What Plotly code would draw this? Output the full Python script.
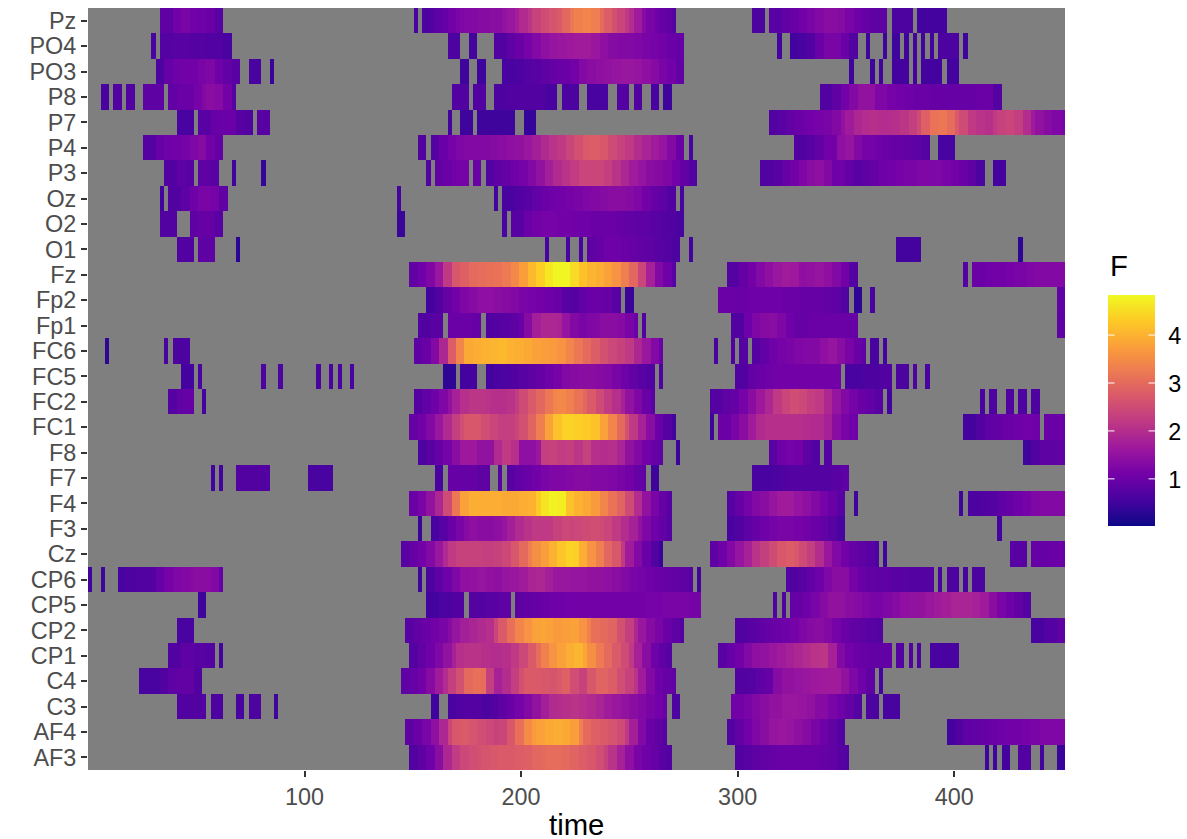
import plotly.graph_objects as go

# samples are 1/512 s apart, time axis in ms
DT = 1.953125
N_SAMPLES = 231

# each channel: (first sample, last sample + 1, F values read along the block)
AF3 = [(76, 138, [.7, .85, 1.05, 1.4, 1.9, 2.25, 2.45, 2.55, 2.6, 2.65, 2.7, 2.75, 2.75, 2.8, 2.85, 2.95, 3.0, 3.05, 3.05, 3.0, 2.9, 2.8, 2.7, 2.55, 2.35, 2.1, 1.8, 1.45, 1.2, 1.05, .95, .8, .7]),
       (153, 180, [.7, .8, .85, .9, .95, 1.0, 1.0, 1.0, 1.0, 1.0, .95, .9, .8, .7]),
       (212, 213, [.5]), (214, 215, [.5]), (216, 218, [.55]), (220, 223, [.7]), (225, 226, [.55]), (229, 231, [.45])]
AF4 = [(75, 137, [.85, 1.0, 1.2, 1.45, 1.9, 2.4, 2.7, 2.75, 2.65, 2.55, 2.45, 2.35, 2.4, 2.7, 3.1, 3.5, 3.7, 3.8, 3.9, 3.95, 3.9, 3.75, 3.35, 3.0, 2.85, 2.75, 2.65, 2.5, 2.2, 1.75, 1.3, 1.0, .85, .75]),
       (151, 179, [.7, .9, 1.1, 1.25, 1.4, 1.55, 1.6, 1.55, 1.45, 1.35, 1.2, 1.05, .9, .75]),
       (203, 231, [.55, .7, .85, .9, .95, 1.0, 1.05, 1.1, 1.1, 1.15, 1.2, 1.25, 1.25, 1.25])]
C3 = [(21, 28, [.7]), (29, 32, [.65]), (35, 37, [.6]), (38, 41, [.65]), (44, 45, [.5]), (81, 83, [.5]),
      (85, 137, [.6, .7, .75, .75, .65, .7, .85, 1.0, 1.15, 1.3, 1.5, 1.75, 1.95, 2.0, 2.05, 2.1, 2.05, 1.95, 1.85, 1.7, 1.6, 1.5, 1.4, 1.3, 1.2, 1.1, 1.0]),
      (138, 140, [.65]), (152, 183, [1.1, 1.2, 1.3, 1.4, 1.5, 1.6, 1.6, 1.55, 1.5, 1.35, 1.2, 1.05, .9, .75]),
      (184, 187, [.65]), (188, 192, [.6])]
C4 = [(12, 27, [.6, .6, .7, .85, .9, .9, .7]),
      (74, 139, [.85, .95, 1.1, 1.35, 1.7, 2.0, 2.3, 2.6, 3.0, 3.1, 3.05, 2.3, 1.8, 2.0, 2.3, 2.6, 2.75, 2.75, 2.7, 2.65, 2.75, 2.85, 2.55, 2.35, 2.7, 2.9, 2.9, 2.8, 2.55, 2.35, 2.1, 1.7, 1.3, 1.05, .95, .85]),
      (153, 186, [.7, .75, .85, .95, 1.35, 1.5, 1.55, 1.6, 1.65, 1.7, 1.7, 1.5, 1.25, 1.05, .85]), (187, 188, [.55])]
CP1 = [(19, 30, [.7, .85, .8, .75]), (31, 32, [.55]),
       (76, 138, [.75, .9, 1.05, 1.25, 1.5, 1.8, 2.05, 2.1, 2.1, 2.05, 2.0, 2.0, 2.05, 2.2, 2.45, 2.75, 3.05, 3.35, 3.6, 3.8, 3.95, 4.05, 3.85, 3.55, 3.25, 3.0, 2.75, 2.5, 2.2, 1.8, 1.4, 1.05, .85, .75]),
       (149, 190, [.8, .95, 1.1, 1.3, 1.45, 1.5, 1.6, 1.7, 1.8, 1.9, 2.0, 2.1, 2.15, 1.8, 1.3, 1.1, 1.0, .95, .9, .9, .9]),
       (191, 193, [.75]), (194, 195, [.7]), (196, 197, [.65]), (199, 206, [.6])]
CP2 = [(21, 25, [.6]),
       (75, 141, [.8, .9, 1.0, 1.1, 1.2, 1.35, 1.55, 1.75, 1.85, 1.95, 2.05, 2.4, 2.75, 3.1, 3.4, 3.6, 3.8, 3.85, 3.8, 3.7, 3.75, 3.8, 3.6, 3.35, 3.1, 3.0, 2.9, 2.6, 2.3, 1.9, 1.6, 1.35, 1.2, 1.0, .85, .7]),
       (153, 188, [.7, .8, .85, .95, 1.0, 1.05, 1.15, 1.25, 1.35, 1.4, 1.3, 1.15, 1.0, .9, .85, .8, .75]), (223, 231, [.6, .75, .85])]
CP5 = [(26, 28, [.5]), (80, 89, [.55, .65, .7]), (90, 100, [.75, .8, .85]),
       (101, 145, [.85, .9, .95, 1.0, 1.05, 1.05, 1.1, 1.1, 1.1, 1.1, 1.1, 1.1, 1.1, 1.1, 1.1, 1.1, 1.15, 1.15, 1.2, 1.2, 1.2, 1.15, 1.15]),
       (162, 163, [.7]), (164, 165, [.7]),
       (166, 223, [.95, 1.05, 1.2, 1.35, 1.5, 1.5, 1.4, 1.35, 1.25, 1.2, 1.25, 1.35, 1.45, 1.5, 1.5, 1.6, 1.7, 1.75, 1.85, 1.85, 1.8, 1.7, 1.4, 1.2, 1.05, .9, .75])]
CP6 = [(0, 1, [.5]), (3, 4, [.5]), (7, 32, [.6, .65, .7, .7, .75, .95, 1.15, 1.25, 1.3, 1.35, 1.4, 1.4, 1.3, .95]), (78, 79, [.5]),
       (80, 143, [.65, .85, 1.05, 1.25, 1.45, 1.5, 1.55, 1.5, 1.45, 1.55, 1.6, 1.7, 1.85, 1.9, 1.75, 1.6, 1.6, 1.55, 1.55, 1.5, 1.5, 1.45, 1.4, 1.3, 1.2, 1.15, 1.05, 1.0, .95, .9, .85, .75]),
       (144, 145, [.55]), (165, 200, [.7, .8, .9, 1.05, 1.25, 1.4, 1.4, 1.15, 1.0, .9, .85, .85, .8, .8, .75, .75, .75]),
       (201, 202, [.6]), (203, 206, [.65]), (207, 208, [.6]), (209, 212, [.65])]
Cz = [(74, 136, [.8, .95, 1.1, 1.3, 1.6, 1.95, 2.2, 2.35, 2.35, 2.35, 2.3, 2.3, 2.35, 2.45, 2.7, 3.0, 3.3, 3.55, 3.75, 4.0, 4.25, 4.4, 4.35, 3.95, 3.6, 3.3, 2.95, 2.7, 2.2, 1.7, 1.3, 1.0, .7, .45]),
      (147, 187, [.85, 1.05, 1.3, 1.55, 1.8, 2.1, 2.3, 2.5, 2.7, 2.8, 2.7, 2.5, 2.3, 2.0, 1.6, 1.3, 1.1, .95, .85, .8, .65]),
      (188, 189, [.5]), (218, 222, [.8]), (223, 231, [.95, 1.0])]
F3 = [(78, 79, [.45]),
      (81, 138, [.6, .8, 1.0, 1.2, 1.35, 1.45, 1.4, 1.4, 1.45, 1.55, 1.75, 1.95, 2.1, 2.2, 2.2, 2.2, 2.35, 2.45, 2.4, 2.45, 2.5, 2.55, 2.5, 2.4, 2.2, 2.0, 1.8, 1.5, 1.25, 1.05, .9, .75]),
      (151, 179, [.6, .7, .85, .95, 1.05, 1.15, 1.2, 1.2, 1.15, 1.1, 1.0, .9, .8, .6]), (215, 216, [.55])]
F4 = [(76, 138, [1.0, 1.2, 1.5, 1.9, 2.5, 3.2, 3.8, 3.95, 3.95, 3.95, 3.95, 3.9, 3.9, 3.95, 4.0, 4.3, 4.6, 4.75, 4.7, 4.2, 4.0, 3.9, 3.7, 3.4, 3.15, 2.9, 2.5, 2.0, 1.5, 1.2, .95, .75]),
      (151, 179, [.75, .95, 1.15, 1.3, 1.4, 1.55, 1.7, 1.7, 1.55, 1.45, 1.3, 1.15, 1.0, .8]), (181, 182, [.5]), (206, 207, [.5]),
      (208, 231, [.65, .7, .75, .85, .95, 1.05, 1.15, 1.25, 1.3, 1.3, 1.3])]
F7 = [(29, 30, [.55]), (31, 32, [.55]), (35, 43, [.7]), (52, 58, [.6]), (82, 84, [.6]), (85, 95, [.95, .95, .85]),
      (97, 98, [.8]), (99, 132, [.8, .9, 1.0, 1.1, 1.2, 1.25, 1.25, 1.3, 1.35, 1.35, 1.3, 1.3, 1.25, 1.2, 1.1, .95, .85]),
      (133, 135, [.5]), (157, 180, [.6, .6, .65, .7, .75, .75, .75, .75, .75, .8, .85])]
F8 = [(78, 136, [.65, .8, .95, 1.15, 1.4, 1.65, 1.65, 1.5, 1.5, 1.95, 2.2, 2.05, 1.45, 1.45, 1.6, 2.3, 2.35, 2.25, 2.3, 2.15, 2.35, 2.05, 2.0, 2.05, 1.85, 1.5, 1.3, 1.1, .95, .85]),
      (139, 140, [.45]), (161, 173, [.8, 1.05, 1.15, 1.1, .85, .7]), (174, 176, [.75]), (221, 231, [.5, .7, .85, .85, .9])]
FC1 = [(76, 139, [.95, 1.1, 1.3, 1.6, 1.95, 2.3, 2.55, 2.7, 2.7, 2.55, 2.4, 2.3, 2.3, 2.4, 2.6, 2.9, 3.3, 3.8, 4.2, 4.4, 4.4, 4.35, 4.3, 4.2, 3.8, 3.4, 3.0, 2.6, 2.2, 1.8, 1.4, 1.0, .75, .55]),
       (147, 148, [.5]), (149, 182, [1.0, 1.2, 1.4, 1.7, 1.95, 2.05, 2.05, 2.05, 2.05, 2.0, 1.95, 1.8, 1.4, 1.2, 1.05]),
       (207, 225, [.55, .7, .85, .9, 1.0, 1.05, 1.1, 1.05]), (226, 231, [1.0])]
FC2 = [(19, 25, [.75, .9, .95]), (27, 28, [.55]),
       (77, 134, [.75, .9, 1.05, 1.25, 1.5, 1.8, 2.05, 2.15, 2.15, 2.1, 2.05, 2.05, 2.1, 2.25, 2.5, 2.75, 2.95, 3.2, 3.4, 3.45, 3.35, 3.15, 2.95, 2.75, 2.5, 2.25, 2.05, 1.8, 1.5, 1.25, 1.0, .8]),
       (147, 188, [.75, .85, .95, 1.15, 1.4, 1.65, 1.9, 2.2, 2.4, 2.55, 2.45, 2.3, 2.2, 1.9, 1.55, 1.3, 1.15, 1.0, .9, .8]), (189, 190, [.55]),
       (211, 212, [.6]), (213, 215, [.65]), (217, 219, [.7]), (220, 222, [.65]), (223, 225, [.65])]
FC5 = [(22, 25, [.55]), (26, 27, [.6]), (41, 42, [.65]), (45, 46, [.65]), (54, 55, [.6]), (57, 58, [.6]),
       (59, 60, [.6]), (62, 63, [.6]), (84, 87, [.35]), (88, 92, [.55]),
       (94, 134, [.55, .6, .65, .7, .8, .85, .95, 1.05, 1.15, 1.3, 1.35, 1.4, 1.4, 1.35, 1.3, 1.2, 1.05, .9, .8, .7]),
       (135, 136, [.65]), (153, 178, [.7, .9, 1.0, 1.05, 1.1, 1.1, 1.1, 1.1, 1.1, 1.1, 1.1, 1.1]),
       (179, 190, [.6, .65, .7]), (191, 194, [.65]), (195, 196, [.65]), (198, 199, [.6])]
FC6 = [(4, 5, [.35]), (18, 19, [.6]), (20, 24, [.65]),
       (77, 136, [.85, 1.0, 1.3, 1.9, 2.8, 3.4, 3.9, 3.95, 4.0, 4.05, 4.1, 4.0, 3.95, 3.9, 3.8, 3.75, 3.7, 3.6, 3.4, 3.2, 3.0, 2.8, 2.6, 2.45, 2.35, 2.2, 1.9, 1.6, 1.3, 1.0]),
       (148, 149, [.6]), (152, 153, [.7]), (154, 156, [.75]),
       (157, 184, [.75, .9, 1.05, 1.15, 1.2, 1.25, 1.3, 1.3, 1.45, 1.55, 1.4, 1.2, 1.0, .85]), (185, 187, [.6]), (188, 189, [.55])]
Fp1 = [(78, 84, [.7, .8]), (85, 93, [1.0, 1.0, .95]),
       (94, 130, [.7, .75, .8, .85, 1.0, 1.35, 1.75, 1.9, 1.9, 1.85, 1.55, 1.3, 1.2, 1.25, 1.3, 1.4, 1.4, 1.35, 1.2, 1.0]), (131, 132, [.7]),
       (152, 182, [.7, 1.05, 1.25, 1.35, 1.4, 1.25, 1.05, .95, 1.0, 1.0, 1.0, 1.0, 1.0, .95]), (229, 231, [.85])]
Fp2 = [(80, 126, [.55, .7, .95, 1.1, 1.25, 1.35, 1.45, 1.45, 1.4, 1.35, 1.3, 1.2, 1.15, 1.1, 1.05, 1.0, .8, .75, .9, 1.0, 1.0, .95, .8]), (127, 129, [.45]),
       (149, 180, [1.0, 1.0, 1.0, 1.05, 1.05, 1.05, 1.05, 1.0, 1.0, .95, .95, .95, .9, .85, .7]), (181, 183, [.35]), (185, 186, [.6]),
       (229, 231, [.9])]
Fz = [(76, 139, [.9, 1.05, 1.25, 1.6, 2.2, 2.7, 2.85, 3.0, 3.05, 3.1, 3.15, 3.25, 3.45, 3.75, 4.1, 4.35, 4.65, 4.8, 4.8, 4.5, 4.2, 4.05, 3.95, 3.8, 3.6, 3.3, 2.95, 2.4, 1.8, 1.3, 1.05, .8]),
      (151, 182, [.75, .95, 1.1, 1.3, 1.45, 1.6, 1.7, 1.65, 1.45, 1.5, 1.55, 1.45, 1.3, 1.1, .75]), (207, 208, [.75]),
      (209, 231, [1.0, 1.05, 1.1, 1.15, 1.2, 1.25, 1.3, 1.3, 1.3])]
O1 = [(21, 25, [.7]), (26, 30, [.85]), (35, 36, [.3]), (108, 109, [.6]), (113, 114, [.6]), (116, 117, [.6]),
      (118, 140, [.85, .95, 1.05, 1.05, 1.0, .95, .9, .85, .8, .75, .65]), (142, 143, [.55]), (191, 197, [.55]), (220, 221, [.35])]
O2 = [(17, 21, [.7]), (24, 32, [.85, .95, .95, .8]), (73, 75, [.45]), (98, 99, [.6]),
      (100, 141, [.8, 1.0, 1.1, 1.15, 1.15, 1.1, 1.1, 1.05, 1.05, 1.0, 1.0, 1.0, .95, .9, .85, .85, .8, .75, .7, .6])]
Oz = [(17, 18, [.55]), (19, 33, [.7, .85, 1.05, 1.2, 1.15, .85]), (73, 74, [.55]), (96, 97, [.55]),
      (98, 139, [.6, .7, .8, .9, 1.0, 1.05, 1.1, 1.15, 1.2, 1.25, 1.3, 1.35, 1.4, 1.4, 1.35, 1.25, 1.1, .95, .85, .7]), (140, 141, [.6])]
P3 = [(18, 25, [.7, .85, .8]), (26, 31, [.85, .8]), (34, 35, [.5]), (41, 42, [.4]), (80, 81, [.7]),
      (82, 90, [.9, 1.0, 1.1, 1.15]), (91, 93, [1.0]),
      (94, 144, [.75, .85, .95, 1.05, 1.15, 1.3, 1.5, 1.75, 1.95, 2.1, 2.25, 2.4, 2.4, 2.4, 2.3, 2.1, 1.9, 1.7, 1.55, 1.4, 1.35, 1.25, 1.1, .9, .7]),
      (159, 212, [.7, .8, .95, 1.1, 1.25, 1.4, 1.45, 1.3, 1.05, .9, .8, .85, .95, 1.05, 1.1, 1.15, 1.2, 1.25, 1.25, 1.25, 1.2, 1.1, 1.0, .85, .65]),
      (214, 217, [.55])]
P4 = [(13, 32, [.75, .95, 1.05, 1.1, 1.15, 1.25, 1.35, 1.1, .9]), (78, 80, [.7]),
      (81, 141, [.75, 1.0, 1.15, 1.25, 1.3, 1.3, 1.3, 1.35, 1.4, 1.45, 1.5, 1.6, 1.75, 1.95, 2.1, 2.2, 2.4, 2.6, 2.75, 2.8, 2.7, 2.5, 2.35, 2.2, 2.0, 1.85, 1.7, 1.55, 1.3, 1.0]),
      (142, 143, [.6]), (167, 199, [.7, .8, .9, 1.1, 1.45, 1.55, 1.3, 1.15, 1.05, 1.0, .95, .9, .85, .75]), (201, 205, [.6])]
P7 = [(21, 25, [.6]), (26, 39, [.8, .95, 1.0, 1.0, .8, .7]), (40, 43, [.8]), (85, 86, [.55]), (88, 91, [.5]),
      (92, 101, [.5]), (103, 106, [.4]),
      (161, 231, [.7, .8, .9, 1.0, 1.05, 1.1, 1.15, 1.2, 1.3, 1.5, 1.7, 1.9, 2.0, 2.05, 2.0, 2.0, 2.05, 2.15, 2.3, 2.5, 2.85, 3.15, 3.2, 3.05, 2.75, 2.5, 2.2, 2.1, 2.05, 2.2, 2.35, 2.4, 2.3, 2.0, 1.7, 1.5, 1.35, 1.25, 1.2])]
P8 = [(3, 5, [.6]), (6, 8, [.7]), (9, 11, [.7]), (13, 18, [.85]), (19, 35, [.9, 1.0, 1.0, 1.15, 1.3, 1.4, 1.35, 1.1, .75]),
      (86, 90, [.7]), (91, 94, [.7]), (96, 111, [.65, .7, .7, .7, .6]), (112, 116, [.65]), (118, 123, [.6]),
      (125, 128, [.75]), (129, 131, [.7]), (133, 135, [.6]), (136, 138, [.5]),
      (173, 216, [.7, .85, 1.1, 1.3, 1.5, 1.5, 1.25, 1.15, 1.1, 1.05, 1.0, 1.0, .95, .95, .95, .95, .95, 1.0, 1.0, .75])]
PO3 = [(16, 36, [.65, .95, 1.05, 1.1, 1.1, 1.2, 1.25, 1.05, .9, .8]), (38, 41, [.6]), (43, 44, [.45]), (88, 90, [.5]),
       (92, 94, [.5]), (98, 141, [.6, .65, .75, .8, .85, .95, 1.0, 1.1, 1.3, 1.4, 1.45, 1.5, 1.55, 1.6, 1.55, 1.45, 1.35, 1.2, 1.1, .9]),
       (180, 181, [.5]), (185, 186, [.5]), (187, 188, [.5]), (190, 194, [.55]), (195, 196, [.55]), (197, 202, [.55]),
       (203, 206, [.55])]
PO4 = [(15, 16, [.6]), (17, 34, [.75, .8, .8, .75, .75, .7, .7, .6]), (85, 88, [.65]), (90, 92, [.55]),
       (96, 141, [.7, .85, 1.0, 1.15, 1.3, 1.45, 1.55, 1.6, 1.65, 1.7, 1.7, 1.6, 1.45, 1.35, 1.3, 1.3, 1.25, 1.2, 1.15, 1.1, 1.0, .95]),
       (163, 164, [.55]), (166, 182, [.55, .6, .7, 1.0, 1.2, 1.2, 1.0, .7]), (184, 185, [.5]), (188, 189, [.5]), (190, 192, [.5]),
       (193, 194, [.5]), (195, 196, [.55]), (197, 198, [.55]), (199, 200, [.55]), (201, 206, [.65]), (207, 208, [.5])]
Pz = [(17, 32, [.85, 1.1, 1.2, 1.1, 1.05, 1.0, .8]), (77, 78, [.6]),
      (79, 139, [.65, .75, .85, .95, 1.1, 1.2, 1.25, 1.3, 1.3, 1.35, 1.35, 1.4, 1.4, 1.5, 1.6, 1.75, 1.95, 2.15, 2.35, 2.5, 2.55, 2.65, 2.75, 2.95, 3.2, 3.35, 3.4, 3.4, 3.3, 3.0, 2.8, 2.6, 2.4, 2.2, 2.0, 1.7, 1.35, 1.2, 1.05, .95, .85, .7]),
      (157, 160, [.65]), (161, 189, [.8, .9, 1.0, 1.1, 1.2, 1.3, 1.4, 1.35, 1.2, 1.05, .95, .85, .85]), (190, 195, [.65]), (196, 203, [.55])]

channels = ["AF3", "AF4", "C3", "C4", "CP1", "CP2", "CP5", "CP6", "Cz", "F3", "F4", "F7", "F8", "FC1", "FC2",
            "FC5", "FC6", "Fp1", "Fp2", "Fz", "O1", "O2", "Oz", "P3", "P4", "P7", "P8", "PO3", "PO4", "Pz"]
blocks = [AF3, AF4, C3, C4, CP1, CP2, CP5, CP6, Cz, F3, F4, F7, F8, FC1, FC2,
          FC5, FC6, Fp1, Fp2, Fz, O1, O2, Oz, P3, P4, P7, P8, PO3, PO4, Pz]
bar_ticks = [1, 2, 3, 4]
F_MIN, F_MAX = 0.03, 4.84


def fill_row(row_blocks):
    row = [None] * N_SAMPLES
    for start, stop, vals in row_blocks:
        for i in range(start, stop):
            row[i] = vals[(i - start) * len(vals) // (stop - start)]
    return row


z = [fill_row(b) for b in blocks]

# plot area in pixels of the 1187x839 page
W, H = 1187, 839
LEFT, RIGHT, TOP, BOTTOM = 88, 1065, 8, 770.5
BAR_X, BAR_W, BAR_TOP, BAR_BOTTOM = 1108, 47, 295, 525.7
PW = RIGHT - LEFT
PH = BOTTOM - TOP
TICK_SIZE, TITLE_SIZE = 23.4, 29.3

fig = go.Figure(go.Heatmap(
    z=z, y=channels, x0=DT / 2, dx=DT,
    colorscale="Plasma", zmin=F_MIN, zmax=F_MAX, hoverongaps=False,
    colorbar=dict(
        # container coordinates, so the colourbar does not push the plot margins
        # (plotly places it too high here, the offset is taken off y)
        xref="container", yref="container",
        x=BAR_X / W, xanchor="left", xpad=0, ypad=0,
        y=(H - BAR_BOTTOM - 53.5) / H, yanchor="bottom",
        thickness=BAR_W, thicknessmode="pixels", len=BAR_BOTTOM - BAR_TOP, lenmode="pixels",
        # white outside ticks only make the gap before the labels, the real ones are annotations below
        outlinewidth=0, tickvals=bar_ticks, ticks="outside", ticklen=9, tickwidth=1, tickcolor="white",
        tickfont=dict(size=TICK_SIZE, color="black"),
    ),
))

fig.update_xaxes(range=[0, N_SAMPLES * DT], tickvals=[100, 200, 300, 400], ticks="outside", ticklen=6, tickwidth=1.5,
                 tickcolor="#333333", tickfont=dict(size=TICK_SIZE, color="#4D4D4D"), showgrid=False, zeroline=False)
fig.update_yaxes(type="category", range=[-0.5, 29.5], dtick=1, ticks="outside", ticklen=6, tickwidth=1.5, tickcolor="#333333",
                 tickfont=dict(size=TICK_SIZE, color="#4D4D4D"), showgrid=False, zeroline=False)

annotations = [
    dict(text="time", font=dict(size=TITLE_SIZE, color="black"), showarrow=False, xref="paper", yref="paper",
         x=0.5, xanchor="center", y=(BOTTOM - 825) / PH, yanchor="middle"),
    dict(text="F", font=dict(size=TITLE_SIZE, color="black"), showarrow=False, xref="paper", yref="paper",
         x=(BAR_X - LEFT) / PW, xanchor="left", y=(BOTTOM - 266) / PH, yanchor="middle"),
    # y title runs off the page edge in the original, only the letter bottoms show
    dict(text="variable", textangle=-90, font=dict(size=TITLE_SIZE, color="black"), showarrow=False, xref="paper", yref="paper",
         x=(13 - LEFT) / PW, xanchor="right", y=(BOTTOM - 390) / PH, yanchor="middle", xshift=7),
    dict(text=" ", width=12, height=160, bgcolor="white", showarrow=False, xref="paper", yref="paper",
         x=(6 - LEFT) / PW, xanchor="center", y=(BOTTOM - 390) / PH, yanchor="middle"),
]
# ggplot colourbars have their ticks inside on both sides
for v in bar_ticks:
    y_px = BAR_BOTTOM - (v - F_MIN) / (F_MAX - F_MIN) * (BAR_BOTTOM - BAR_TOP)
    for edge, ax in ((BAR_X, 9.5), (BAR_X + BAR_W, -9.5)):
        annotations.append(dict(text=" ", xref="paper", yref="paper", x=(edge - LEFT) / PW, y=(BOTTOM - y_px) / PH,
                                ax=ax, ay=0, showarrow=True, arrowhead=0, arrowwidth=1, arrowcolor="white", standoff=0))

fig.update_layout(
    width=W, height=H, autosize=False, annotations=annotations,
    margin=dict(l=LEFT, r=W - RIGHT, t=TOP, b=H - BOTTOM, pad=0),
    plot_bgcolor="#7F7F7F", paper_bgcolor="white",
    font=dict(family="Liberation Sans, Arial, sans-serif"),
)

fig.write_html("out.html", config={"displayModeBar": False}, post_script="document.body.style.margin = '0';")
